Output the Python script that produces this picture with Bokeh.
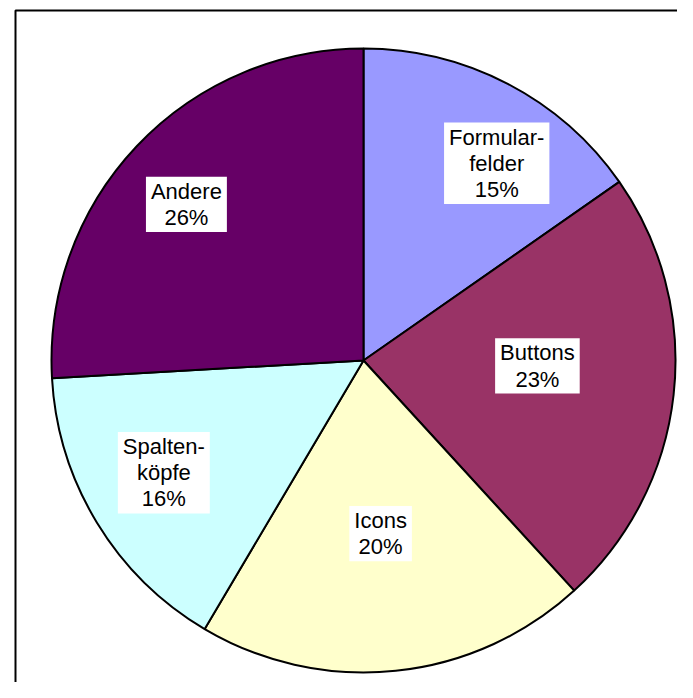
import math
from bokeh.plotting import figure
from bokeh.models import Range1d, ColumnDataSource
from bokeh.core.properties import value
from bokeh.embed import file_html
from bokeh.resources import INLINE

# ---- data ----
categories = ["Formular-\nfelder", "Buttons", "Icons", "Spalten-\nköpfe", "Andere"]
percent = [15.3, 22.9, 20.3, 15.6, 25.9]
colors = ["#9999FF", "#993366", "#FFFFCC", "#CCFFFF", "#660066"]

# ---- layout (pixels) ----
W, H = 677, 682
CX, CY, R = 363, H - 360, 312
label_r = [238, 174, 174, 229, 236]        # label distance from centre
label_nudge = [6.5, -4.5, 0.3, 2.0, -2.0]  # degrees, clockwise

total = float(sum(percent))
starts, ends, lx, ly, labels = [], [], [], [], []
cum = 0.0
for i, v in enumerate(percent):
    a0 = cum / total
    a1 = (cum + v) / total
    # clockwise from top
    ends.append(math.pi / 2 - 2 * math.pi * a0)
    starts.append(math.pi / 2 - 2 * math.pi * a1)
    mid = math.radians((a0 + a1) / 2 * 360 + label_nudge[i])
    lx.append(CX + label_r[i] * math.sin(mid))
    ly.append(CY + label_r[i] * math.cos(mid))
    labels.append(f"{categories[i]}\n{round(v / total * 100)}%")
    cum += v

src = ColumnDataSource(dict(start=starts, end=ends, color=colors,
                            lx=lx, ly=ly, label=labels))

p = figure(width=W, height=H, output_backend="svg", toolbar_location=None,
           x_axis_type=None, y_axis_type=None,
           x_range=Range1d(0, W), y_range=Range1d(0, H),
           min_border=0, outline_line_color=None)
p.grid.visible = False
p.background_fill_color = "white"
p.border_fill_color = "white"

# outer chart frame (extends past the visible page on right/bottom)
p.quad(left=15, right=W + 200, top=H - 10, bottom=-200,
       fill_color=None, line_color="black", line_width=2)

p.wedge(x=CX, y=CY, radius=R, start_angle="start", end_angle="end",
        fill_color="color", line_color="black", line_width=2, source=src)

p.text(x="lx", y="ly", text="label", source=src,
       text_font=value("Liberation Sans"), text_font_size="22px",
       text_color="black", text_align="center", text_baseline="middle",
       text_line_height=1.05,
       background_fill_color="white", padding=dict(x=5, y=2))

open("out.html", "w").write(file_html(p, INLINE))
